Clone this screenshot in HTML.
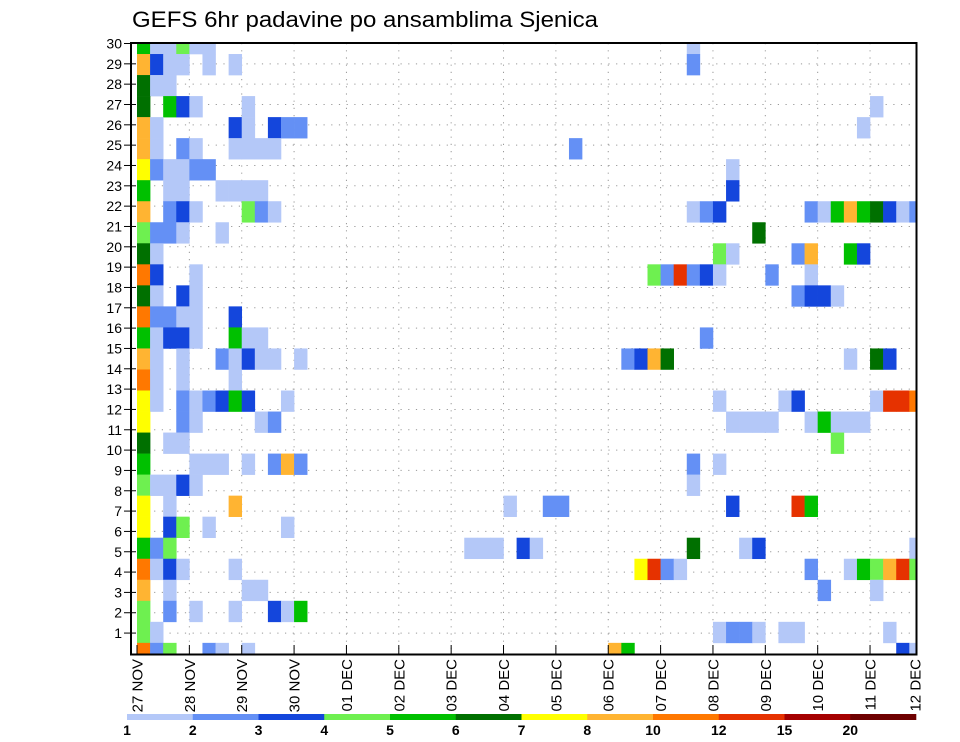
<!DOCTYPE html>
<html><head><meta charset="utf-8"><style>
html,body{margin:0;padding:0;background:#fff;}
svg{display:block;font-family:"Liberation Sans",sans-serif;}
</style></head><body>
<svg id="chart" width="960" height="742" viewBox="0 0 960 742" xmlns="http://www.w3.org/2000/svg">
<rect x="0" y="0" width="960" height="742" fill="#fff"/>
<text x="132" y="27" font-size="22" textLength="466" lengthAdjust="spacingAndGlyphs" fill="#000">GEFS 6hr padavine po ansamblima Sjenica</text>
<defs><clipPath id="plotclip"><rect x="131" y="43" width="785.5" height="611.5"/></clipPath></defs>
<g id="grid"></g>
<g id="cells" clip-path="url(#plotclip)"></g>
<g id="axes"></g>
<g id="legend"></g>
</svg>
<script>
// rows from top (member 30 at top) ; one char per 6-hour step; '.' = no precip
const memberRows = [
"eaadaa....................................a.................",
"hcaa.a.a..................................b................",
"faa........................................................",
"f.eca...a...............................................a...",
"ha.....ca.cbb..........................................a.....",
"ha.ba..aaaa......................b..........................",
"gbaabb.......................................a..............",
"e.aa..aaaa...................................c..............",
"h.bca...dba...............................abc......baehefcab",
"dbba..a........................................f...........",
"fa..........................................da....bh..ec....",
"ic..a..................................dbjbca...b..a........",
"fa.ca.............................................bcca......",
"ibbaa..c....................................................",
"eacca..eaa.................................b................",
"ha.a..bacaa.a........................bchf.............a.fc...",
"ia.a...a....................................................",
"ga.babcec..a................................a....ac.....ajji",
"g..ba....ab..................................aaaa..aeaaa....",
"f.aa.................................................d......",
"e...aaa.a.bhb.............................b.a...............",
"daaca.....................................a.................",
"g.a....h....................a..bb............c....je........",
"g.cd.a.....a................................................",
"ebd......................aaa.ca...........f...ac...........a",
"iaca...a..............................gjba.........b..aedhjd",
"h.a.....aa..........................................b...a...",
"d.b.a..a..cae...............................................",
"da..........................................abba.aa......a..",
"ibd..ba.a...........................he....................ca"
];
const levelCodes = ["a","b","c","d","e","f","g","h","i","j","k","l"];
const levelColors = ["#b4c8f8","#6490f5","#1446dc","#6ef050","#00c000","#007000","#ffff00","#ffb432","#ff7800","#e63200","#a50000","#6e0000"];
const levelLabels = ["1","2","3","4","5","6","7","8","10","12","15","20"];
const dayLabels = ["27 NOV","28 NOV","29 NOV","30 NOV","01 DEC","02 DEC","03 DEC","04 DEC","05 DEC","06 DEC","07 DEC","08 DEC","09 DEC","10 DEC","11 DEC","12 DEC"];
const memberLabels = [1,2,3,4,5,6,7,8,9,10,11,12,13,14,15,16,17,18,19,20,21,22,23,24,25,26,27,28,29,30];

const NS = "http://www.w3.org/2000/svg";
const X0 = 137, STEP = 13.09;
const Y0 = 43.5, BAND = 21.03;
function xStep(i){ return X0 + i*STEP; }
function xDay(d){ return X0 + d*STEP*4; }
function yBand(j){ return Y0 + j*BAND; }
function yLabel(m){ return 43.5 + (30-m)*20.33; }
function mk(tag, attrs, parent){ const e=document.createElementNS(NS,tag); for(const k in attrs) e.setAttribute(k,attrs[k]); parent.appendChild(e); return e; }

const cells = document.getElementById('cells');
memberRows.forEach((row,j)=>{
  for(let i=0;i<row.length;i++){
    const lv = levelCodes.indexOf(row[i]);
    if(lv<0) continue;
    const r = mk('rect',{x:xStep(i).toFixed(2), y:(yBand(j)-BAND/2).toFixed(2), width:(STEP+0.3).toFixed(2), height:(BAND+0.3).toFixed(2), fill:levelColors[lv]}, cells);
    
    
  }
});

const grid = document.getElementById('grid');
memberLabels.forEach(m=>{
  if(m===30) return;
  const l = mk('line',{x1:131, x2:916, y1:yLabel(m), y2:yLabel(m), stroke:"#999", "stroke-width":1, "stroke-dasharray":"1.2 6.5"}, grid);
  
  
});
dayLabels.forEach((d,k)=>{
  if(k===0 || k===15) return;
  const l = mk('line',{x1:xDay(k), x2:xDay(k), y1:43, y2:654, stroke:"#999", "stroke-width":1, "stroke-dasharray":"1.2 6"}, grid);
  
  
});

const axes = document.getElementById('axes');
const frame = mk('rect',{x:131, y:43, width:785.5, height:611.5, fill:"none", stroke:"#000", "stroke-width":2}, axes);


memberLabels.forEach(m=>{
  const y = yLabel(m);
  const t = mk('line',{x1:124, x2:136, y1:y, y2:y, stroke:"#000", "stroke-width":1}, axes);
  
  
  const tx = mk('text',{x:122, y:y+5, "font-size":14, "text-anchor":"end", fill:"#000"}, axes);
  tx.textContent = String(m);
  
  
});
dayLabels.forEach((d,k)=>{
  const x = k===15 ? 915 : xDay(k);
  if(k<15){
    const t = mk('line',{x1:x, x2:x, y1:645, y2:654, stroke:"#000", "stroke-width":1}, axes);
    
    
  }
  const tx = mk('text',{x:0, y:0, "font-size":15, "text-anchor":"end", fill:"#000", transform:`translate(${x+5.5},${659}) rotate(-90)`}, axes);
  tx.textContent = d;
  
  
});

const legend = document.getElementById('legend');
const LX = 127, LW = 65.75;
levelColors.forEach((c,k)=>{
  const r = mk('rect',{x:LX+k*LW, y:714, width:LW+0.3, height:6, fill:c}, legend);
  
  
  const t = mk('text',{x:LX+k*LW, y:735, "font-size":14, "font-weight":"bold", "text-anchor":"middle", fill:"#000"}, legend);
  t.textContent = levelLabels[k];
  
  
});
</script>
</body></html>
